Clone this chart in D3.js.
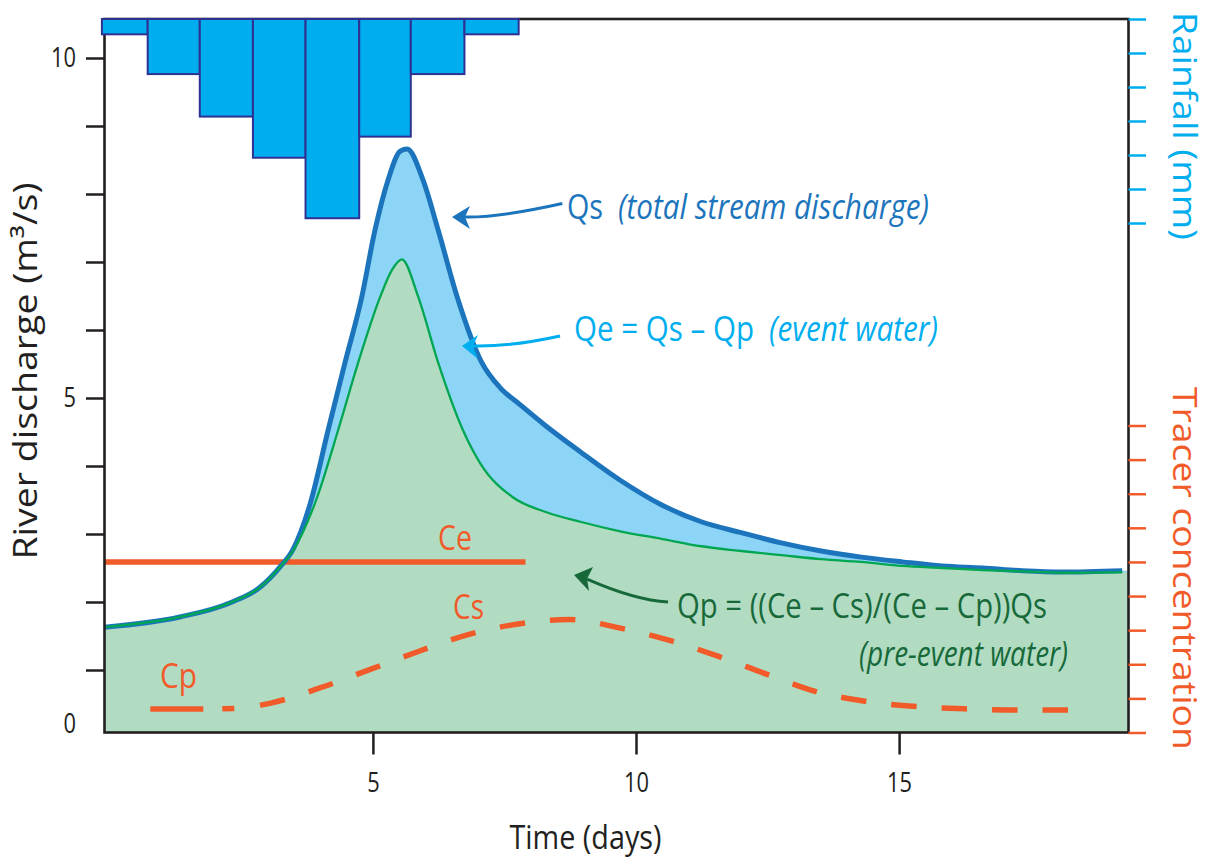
<!DOCTYPE html>
<html>
<head>
<meta charset="utf-8">
<script src="https://cdn.jsdelivr.net/npm/d3@7"></script>
<style>
  html, body { margin: 0; padding: 0; background: #fff; }
  svg { display: block; font-family: "Open Sans", sans-serif; }
</style>
</head>
<body>
<svg id="chart" width="1208" height="863"></svg>
<script>
// ---- Data -------------------------------------------------------------
// Axis ticks
const timeTicks = [5, 10, 15];
const dischargeTicks = [1, 2, 3, 4, 5, 6, 7, 8, 9, 10];
const dischargeLabels = [5, 10];
const rainTicks = [0, 10, 20, 30, 40, 50, 60];
const tracerTicks = [0, 1, 2, 3, 4, 5, 6, 7, 8, 9];

// Rainfall (mm) falling in each interval between consecutive edges (days)
const rainEdges = [-0.15, 0.72, 1.71, 2.72, 3.72, 4.74, 5.72, 6.74, 7.77];
const rainfall = [4.5, 16.2, 28.7, 40.8, 58.6, 34.6, 16.2, 4.5];

// Qs: total stream discharge [day, m3/s]
const qs = [
  [-0.1, 1.63], [1.33, 1.78], [2.29, 1.99], [2.86, 2.22], [3.24, 2.52], [3.48, 2.77],
  [3.81, 3.45], [4.15, 4.53], [4.47, 5.52], [4.79, 6.49], [5.04, 7.47], [5.29, 8.21],
  [5.52, 8.63], [5.65, 8.66], [5.95, 8.21], [6.24, 7.47], [6.60, 6.49], [7.07, 5.52],
  [7.42, 5.15], [7.80, 4.90], [8.27, 4.60], [8.94, 4.21], [9.70, 3.79], [10.48, 3.43],
  [11.24, 3.18], [12.00, 3.02], [12.76, 2.87], [13.52, 2.75], [14.28, 2.66], [15.06, 2.59],
  [15.82, 2.53], [16.58, 2.50], [17.34, 2.46], [18.10, 2.44], [19.24, 2.46]
];

// Qp: pre-event water [day, m3/s]
const qp = [
  [-0.1, 1.63], [1.33, 1.78], [2.29, 1.99], [2.86, 2.22], [3.24, 2.52], [3.48, 2.75],
  [3.94, 3.54], [4.34, 4.53], [4.72, 5.52], [5.14, 6.49], [5.36, 6.88], [5.55, 7.04],
  [5.86, 6.49], [6.24, 5.52], [6.71, 4.53], [7.04, 4.04], [7.66, 3.54], [8.30, 3.32],
  [8.94, 3.18], [9.70, 3.04], [10.48, 2.93], [11.24, 2.82], [12.00, 2.75], [12.76, 2.69],
  [13.52, 2.63], [14.28, 2.59], [15.06, 2.53], [15.82, 2.50], [16.58, 2.47], [17.34, 2.45],
  [18.10, 2.43], [19.24, 2.44]
];

// Tracer concentrations
const ce = 5;                 // event water
const ceSpan = [-0.1, 7.9];   // days
const cs = [                  // stream water [day, concentration]; starts at Cp
  [0.77, 0.69], [1.8, 0.69], [2.45, 0.71], [3.08, 0.87], [4.02, 1.32], [4.95, 1.85],
  [5.89, 2.39], [6.81, 2.87], [7.76, 3.18], [8.72, 3.31], [9.70, 3.06], [10.64, 2.70],
  [11.57, 2.23], [12.50, 1.70], [13.42, 1.20], [14.38, 0.91], [15.34, 0.76], [16.31, 0.69],
  [17.29, 0.66], [18.23, 0.66]
];

// ---- Layout & scales --------------------------------------------------
const frame = { left: 104.5, right: 1128.5, top: 19, bottom: 732.5 };
const x = d3.scaleLinear().domain([0, 10]).range([109.8, 636]);
const y = d3.scaleLinear().domain([0, 10]).range([738, 58]);
const yTracer = d3.scaleLinear().domain([0, 9]).range([732.5, 425.5]);
const yRain = d3.scaleLinear().domain([0, 60]).range([19, 223]);
const tMax = x.invert(frame.right);

const C = {
  ink: "#231f20",
  qs: "#1c75bc",
  qsFill: "#8dd5f6",
  qp: "#00a651",
  qpFill: "#b2dcc2",
  qpText: "#17693a",
  rain: "#00aeef",
  rainEdge: "#2e3192",
  tracer: "#f15a29"
};

const svg = d3.select("#chart");

svg.append("defs").append("clipPath").attr("id", "plot-clip")
  .append("rect")
  .attr("x", frame.left).attr("y", frame.top)
  .attr("width", frame.right - frame.left).attr("height", frame.bottom - frame.top);

const plot = svg.append("g").attr("clip-path", "url(#plot-clip)");

// ---- Filled discharge components -------------------------------------
const extend = arr => arr.concat([[tMax, arr[arr.length - 1][1]]]);
const area = d3.area()
  .x(d => x(d[0])).y0(frame.bottom).y1(d => y(d[1]))
  .curve(d3.curveMonotoneX);

plot.append("path").datum(extend(qs)).attr("d", area).attr("fill", C.qsFill);
plot.append("path").datum(extend(qp)).attr("d", area).attr("fill", C.qpFill);

// ---- Tracer lines -----------------------------------------------------
plot.append("line")
  .attr("x1", x(ceSpan[0])).attr("x2", x(ceSpan[1]))
  .attr("y1", yTracer(ce)).attr("y2", yTracer(ce))
  .attr("stroke", C.tracer).attr("stroke-width", 5.5);

const dashes = [53, 19, 12, 26];
for (let i = 0; i < 40; i++) dashes.push(25.5, 25);
plot.append("path").datum(cs)
  .attr("d", d3.line().x(d => x(d[0])).y(d => yTracer(d[1])).curve(d3.curveMonotoneX))
  .attr("fill", "none").attr("stroke", C.tracer).attr("stroke-width", 5.5)
  .attr("stroke-dasharray", dashes.join(","));

// ---- Discharge lines --------------------------------------------------
const line = d3.line().x(d => x(d[0])).y(d => y(d[1])).curve(d3.curveMonotoneX);
plot.append("path").datum(qs).attr("d", line)
  .attr("fill", "none").attr("stroke", C.qs).attr("stroke-width", 5)
  .attr("stroke-linejoin", "round");
plot.append("path").datum(qp).attr("d", line)
  .attr("fill", "none").attr("stroke", C.qp).attr("stroke-width", 2.3);

// ---- Frame ------------------------------------------------------------
svg.append("rect")
  .attr("x", frame.left).attr("y", frame.top)
  .attr("width", frame.right - frame.left).attr("height", frame.bottom - frame.top)
  .attr("fill", "none").attr("stroke", C.ink).attr("stroke-width", 2.6);

// ---- Axes -------------------------------------------------------------
function styleAxis(g, color, size) {
  g.select(".domain").remove();
  g.selectAll(".tick line").attr("stroke", color).attr("stroke-width", 2.5);
  g.attr("font-family", "'Open Sans', sans-serif").attr("font-size", size);
  g.selectAll(".tick text").attr("fill", color)
    .each(function () {
      const s = d3.select(this).text();
      if (s) d3.select(this).attr("textLength", s.length * 12.5).attr("lengthAdjust", "spacingAndGlyphs");
    });
}

svg.append("g")
  .attr("transform", `translate(${frame.left},0)`)
  .call(d3.axisLeft(y).tickValues(dischargeTicks).tickSize(18.5).tickPadding(10)
    .tickFormat(d => dischargeLabels.includes(d) ? d : ""))
  .call(g => styleAxis(g, C.ink, 28));

// zero label sits just above the time axis
svg.append("text")
  .attr("x", frame.left - 28.5).attr("y", frame.bottom + 0.5)
  .attr("text-anchor", "end").attr("font-size", 28).attr("fill", C.ink)
  .attr("textLength", 12.5).attr("lengthAdjust", "spacingAndGlyphs")
  .text("0");

svg.append("g")
  .attr("transform", `translate(0,${frame.bottom})`)
  .call(d3.axisBottom(x).tickValues(timeTicks).tickSize(22).tickPadding(18))
  .call(g => styleAxis(g, C.ink, 28));

svg.append("g")
  .attr("transform", `translate(${frame.right},0)`)
  .call(d3.axisRight(yRain).tickValues(rainTicks).tickSize(17.5).tickFormat(""))
  .call(g => styleAxis(g, C.rain, 28));

svg.append("g")
  .attr("transform", `translate(${frame.right},0)`)
  .call(d3.axisRight(yTracer).tickValues(tracerTicks).tickSize(17.5).tickFormat(""))
  .call(g => styleAxis(g, C.tracer, 28));

// ---- Rainfall bars (hanging from the top) -----------------------------
svg.append("g").selectAll("rect")
  .data(rainfall)
  .join("rect")
  .attr("x", (d, i) => x(rainEdges[i]))
  .attr("width", (d, i) => x(rainEdges[i + 1]) - x(rainEdges[i]))
  .attr("y", yRain(0))
  .attr("height", d => yRain(d) - yRain(0))
  .attr("fill", C.rain).attr("stroke", C.rainEdge).attr("stroke-width", 2);

// ---- Annotation arrows ------------------------------------------------
const P = (t, v) => [x(t), y(v)];
function arrow(spec, color) {
  const [tip, b1, notch, b2, ctrl, end] = spec.map(p => P(p[0], p[1]));
  svg.append("path")
    .attr("d", `M${notch}Q${ctrl} ${end}`)
    .attr("fill", "none").attr("stroke", color).attr("stroke-width", 3);
  svg.append("path")
    .attr("d", `M${tip}L${b1}L${notch}L${b2}Z`)
    .attr("fill", color);
}
arrow([[6.503, 7.662], [6.845, 7.824], [6.75, 7.662], [6.845, 7.485], [7.38, 7.65], [8.60, 7.86]], C.qs);
arrow([[6.693, 5.765], [6.998, 5.926], [6.902, 5.765], [6.998, 5.574], [7.605, 5.75], [8.556, 5.912]], C.rain);
arrow([[8.822, 2.397], [9.183, 2.515], [9.069, 2.338], [9.107, 2.162], [9.982, 2.029], [10.609, 2.0]], C.qpText);

// ---- Annotation text --------------------------------------------------
function label(px, py, str, opts) {
  const t = svg.append("text")
    .attr("x", px).attr("y", py)
    .attr("font-size", opts.size || 35)
    .attr("fill", opts.color)
    .attr("font-style", opts.italic ? "italic" : "normal")
    .text(str);
  if (opts.len) t.attr("textLength", opts.len).attr("lengthAdjust", "spacingAndGlyphs");
  if (opts.anchor) t.attr("text-anchor", opts.anchor);
  if (opts.rotate) t.attr("transform", `rotate(${opts.rotate},${px},${py})`);
  return t;
}

label(x(8.689), y(7.632), "Qs", { color: C.qs, len: 36 });
label(x(9.658), y(7.632), "(total stream discharge)", { color: C.qs, italic: true, len: 311 });
label(x(8.822), y(5.838), "Qe = Qs \u2013 Qp", { color: C.rain, len: 180 });
label(x(12.528), y(5.838), "(event water)", { color: C.rain, italic: true, len: 169 });
label(x(10.78), y(1.765), "Qp = ((Ce \u2013 Cs)/(Ce \u2013 Cp))Qs", { color: C.qpText, len: 370 });
label(x(14.239), y(1.059), "(pre-event water)", { color: C.qpText, italic: true, len: 209 });

label(x(6.236), yTracer(5.35), "Ce", { color: C.tracer, len: 34 });
label(x(6.522), yTracer(3.327), "Cs", { color: C.tracer, len: 31 });
label(x(0.954), yTracer(1.304), "Cp", { color: C.tracer, len: 37 });

// Axis titles
label(585.5, 849, "Time (days)", { color: C.ink, size: 33, anchor: "middle", len: 152 });
label(37, 371, "River discharge (m\u00b3/s)", { color: C.ink, size: 32, anchor: "middle", len: 377, rotate: -90 });
label(1173, 12, "Rainfall (mm)", { color: C.rain, size: 33, len: 228, rotate: 90 });
label(1173, 387, "Tracer concentration", { color: C.tracer, size: 33, len: 363, rotate: 90 });
</script>
</body>
</html>
